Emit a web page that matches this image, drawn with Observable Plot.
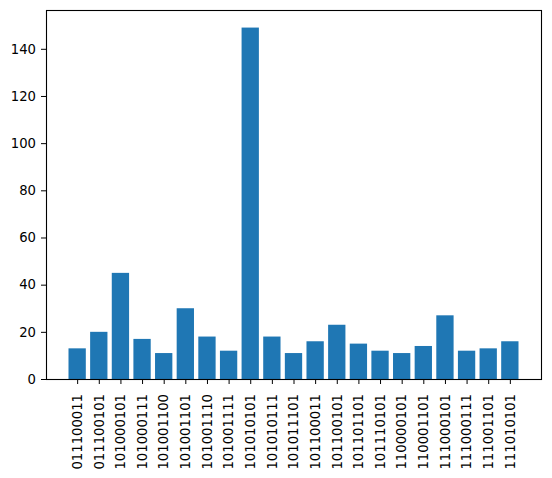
<!DOCTYPE html>
<html>
<head>
<meta charset="utf-8">
<script src="https://cdn.jsdelivr.net/npm/d3@7"></script>
<script src="https://cdn.jsdelivr.net/npm/@observablehq/plot@0.6"></script>
<style>
  html, body { margin: 0; padding: 0; background: #fff; }
  svg { display: block; }
</style>
</head>
<body>
<div id="chart"></div>
<script>
const categories = [
  "011100011", "011100101", "101000101", "101000111", "101001100",
  "101001101", "101001110", "101001111", "101010101", "101010111",
  "101011101", "101100011", "101100101", "101101101", "101110101",
  "110000101", "110001101", "111000101", "111000111", "111001101",
  "111010101"
];
const counts = [13, 20, 45, 17, 11, 30, 18, 12, 149, 18, 11, 16, 23, 15, 12, 11, 14, 27, 12, 13, 16];
const yTicks = [0, 20, 40, 60, 80, 100, 120, 140];

const data = categories.map((c, i) => ({ key: c, value: counts[i] }));
const yMax = d3.max(counts) * 1.05;

const chart = Plot.plot({
  width: 552,
  height: 478,
  marginLeft: 46,
  marginRight: 11,
  marginTop: 10,
  marginBottom: 99,
  style: { fontFamily: "DejaVu Sans", fontSize: "13.2px", color: "#000", background: "#fff" },
  x: { domain: categories, paddingInner: 0.2, paddingOuter: 1.04, align: 0.5, round: false },
  y: { domain: [0, yMax] },
  marks: [
    Plot.barY(data, { x: "key", y: "value", fill: "#1f77b4", inset: 0 }),
    Plot.axisX({ tickRotate: -90, tickSize: 5, tickPadding: 9.5, label: null, fontSize: 13.2 }),
    Plot.axisY({ ticks: yTicks, tickSize: 5, tickPadding: 5.5, label: null, fontSize: 13.2 }),
    Plot.frame({ stroke: "#000", strokeWidth: 1.1 })
  ]
});
document.getElementById("chart").appendChild(chart);
</script>
</body>
</html>
